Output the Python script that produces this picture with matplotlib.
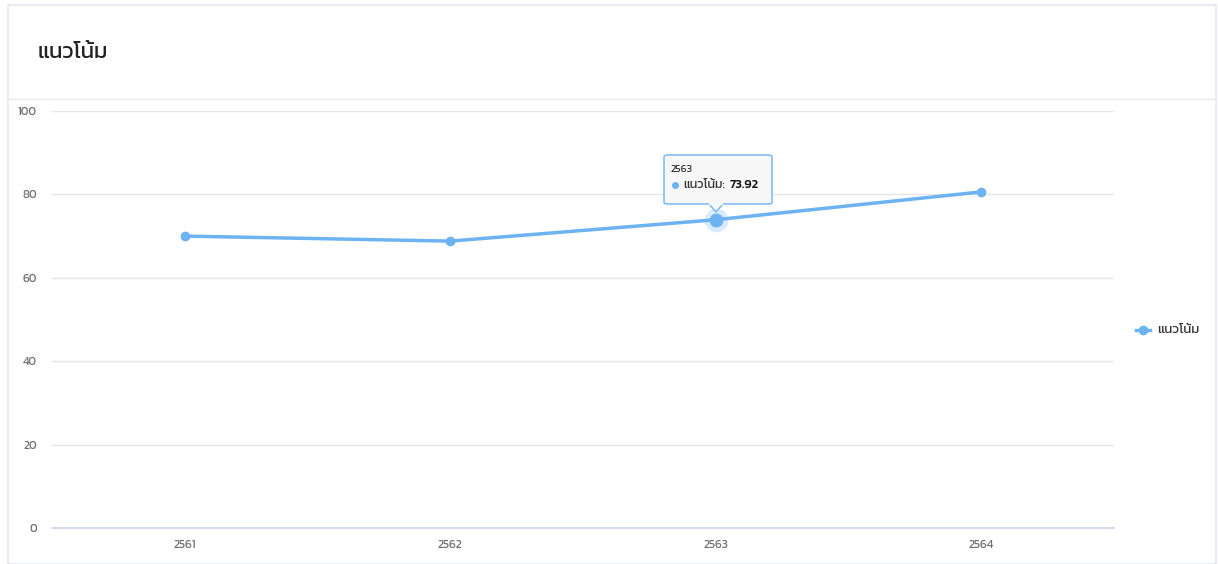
import matplotlib
matplotlib.use("Agg")
import matplotlib.pyplot as plt
from matplotlib.lines import Line2D
from matplotlib.patches import FancyBboxPatch, Rectangle, Polygon

# ---- data ----
title = "แนวโน้ม"
series_name = "แนวโน้ม"
categories = ["2561", "2562", "2563", "2564"]
values = [70.0, 68.8, 73.92, 80.6]
y_ticks = [0, 20, 40, 60, 80, 100]
hover_index = 2

FAM = ["Kanit", "Prompt", "Noto Sans Thai", "DejaVu Sans"]
plt.rcParams["font.family"] = FAM

LINE_C = "#6db3f2"
GRID_C = "#e6e6e6"
TICK_C = "#6e6e6e"

W, H = 1218, 564
fig = plt.figure(figsize=(W / 100, H / 100), dpi=100)
fig.patch.set_facecolor("white")

def fx(px):
    return px / W

def fy(py):
    return 1 - py / H

# card border and title separator
fig.add_artist(Rectangle((fx(8), fy(564)), fx(1216) - fx(8), fy(5) - fy(564),
                         transform=fig.transFigure, fill=False,
                         edgecolor="#e8e8f4", linewidth=1.2))
fig.add_artist(Line2D([fx(8), fx(1216)], [fy(99), fy(99)],
                      transform=fig.transFigure, color="#e8e8ee", linewidth=1))
fig.text(fx(38), fy(52), title, fontsize=16, color="#222222",
         va="center", ha="left", fontweight="normal", family=FAM)

ax = fig.add_axes([fx(52), fy(528), fx(1114) - fx(52), fy(111) - fy(528)])
x = list(range(len(categories)))
ax.set_xlim(-0.5, len(categories) - 0.5)
ax.set_ylim(0, 100)
ax.set_yticks(y_ticks)
ax.set_xticks(x)
ax.set_xticklabels(categories)
ax.grid(axis="y", color=GRID_C, linewidth=1)
ax.set_axisbelow(True)
for s in ["top", "right", "left"]:
    ax.spines[s].set_visible(False)
ax.spines["bottom"].set_color("#ccd6eb")
ax.spines["bottom"].set_linewidth(1.2)
ax.tick_params(axis="both", length=0, colors=TICK_C, labelsize=8.5)
ax.tick_params(axis="y", pad=11)
ax.tick_params(axis="x", pad=8.5)
ax.set_facecolor("none")

ax.plot(x, values, color=LINE_C, linewidth=2.5, marker="o", markersize=6,
        solid_capstyle="round", zorder=3, clip_on=False)

# hover halo
hx, hy = x[hover_index], values[hover_index]
ax.plot([hx], [hy], "o", markersize=17, color=LINE_C, alpha=0.25, zorder=2,
        markeredgewidth=0)
ax.plot([hx], [hy], "o", markersize=9, color=LINE_C, zorder=4)

# tooltip
bx0, bx1 = 664, 772
by0, by1 = 155, 204
tip_y = 212
box = FancyBboxPatch((fx(bx0), fy(by1)), fx(bx1) - fx(bx0), fy(by0) - fy(by1),
                     boxstyle="round,pad=0,rounding_size=0.003",
                     transform=fig.transFigure, facecolor="#f7f7f7",
                     edgecolor=LINE_C, linewidth=1, zorder=10)
fig.add_artist(box)
tri = Polygon([(fx(709), fy(by1)), (fx(716), fy(tip_y)), (fx(723), fy(by1))],
              closed=False, transform=fig.transFigure, facecolor="#f7f7f7",
              edgecolor=LINE_C, linewidth=1, zorder=11)
fig.add_artist(tri)
fig.add_artist(Line2D([fx(709.8), fx(722.2)], [fy(by1), fy(by1)],
                      transform=fig.transFigure, color="#f7f7f7",
                      linewidth=1.6, zorder=12))
fig.text(fx(671), fy(170), categories[hover_index], fontsize=7.5, color="#333333",
         va="center", ha="left", zorder=13)
fig.add_artist(Line2D([fx(675)], [fy(185)], transform=fig.transFigure,
                      marker="o", markersize=4, color=LINE_C, zorder=13))
t1 = fig.text(fx(683), fy(184.5), series_name + ":", fontsize=9,
              color="#333333", va="center", ha="left", zorder=13)
fig.canvas.draw()
ext = t1.get_window_extent()
fig.text((ext.x1 + 5) / W, fy(184.5), "%.2f" % values[hover_index], fontsize=9,
         color="#111111", va="center", ha="left", zorder=13,
         fontweight="medium")

# legend
fig.add_artist(Line2D([fx(1136), fx(1150)], [fy(330), fy(330)],
                      transform=fig.transFigure, color=LINE_C, linewidth=2.5,
                      zorder=5))
fig.add_artist(Line2D([fx(1143)], [fy(330)], transform=fig.transFigure,
                      marker="o", markersize=6, color=LINE_C, zorder=6))
fig.text(fx(1157), fy(330), series_name, fontsize=9.5, color="#333333",
         va="center", ha="left")

fig.savefig("out.png", dpi=100, facecolor="white")
